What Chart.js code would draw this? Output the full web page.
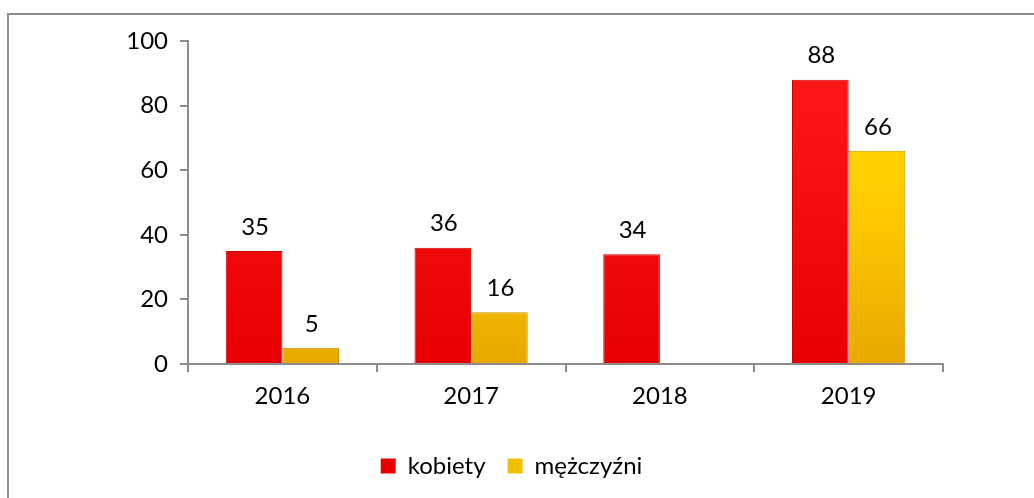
<!DOCTYPE html>
<html>
<head>
<meta charset="utf-8">
<script src="https://cdn.jsdelivr.net/npm/chart.js@4"></script>
<style>
  html, body { margin: 0; padding: 0; background: #fff; }
  #wrap { position: relative; width: 1034px; height: 498px; overflow: hidden; }
  #frame { position: absolute; left: 7px; top: 13px; width: 1040px; height: 500px;
           border-top: 2px solid #8c8c8c; border-left: 2px solid #8c8c8c; }
  canvas { position: absolute; left: 0; top: 0; }
</style>
</head>
<body>
<div id="wrap">
  <div id="frame"></div>
  <canvas id="chart" width="1034" height="498"></canvas>
</div>
<script>
// data
const years = ['2016', '2017', '2018', '2019'];
const kobiety = [35, 36, 34, 88];
const mezczyzni = [5, 16, null, 66];
const yTicks = [0, 20, 40, 60, 80, 100];

const FONT = 'Lato, "Open Sans", sans-serif';
const AXIS = '#8c8c8c';

function redFill(ctx) {
  const area = ctx.chart.chartArea;
  if (!area) return '#f00000';
  const g = ctx.chart.ctx.createLinearGradient(0, area.top, 0, area.bottom);
  g.addColorStop(0, '#ff1a1a');
  g.addColorStop(1, '#e80000');
  return g;
}

function yellowFill(ctx) {
  const area = ctx.chart.chartArea;
  if (!area) return '#ffd000';
  const g = ctx.chart.ctx.createLinearGradient(0, area.top, 0, area.bottom);
  g.addColorStop(0, '#ffe000');
  g.addColorStop(0.5, '#ffcc00');
  g.addColorStop(1, '#e8a800');
  return g;
}

// writes the value above every bar
const valueLabels = {
  id: 'valueLabels',
  afterDatasetsDraw(chart) {
    const ctx = chart.ctx;
    ctx.save();
    ctx.font = '24px ' + FONT;
    ctx.fillStyle = '#000';
    ctx.textAlign = 'center';
    ctx.textBaseline = 'bottom';
    chart.data.datasets.forEach((ds, i) => {
      chart.getDatasetMeta(i).data.forEach((bar, j) => {
        if (ds.data[j] == null) return;
        ctx.fillText(String(ds.data[j]), bar.x + 1, bar.y - 12);
      });
    });
    ctx.restore();
  }
};

const solidColours = ['#e80000', '#f0c000'];

new Chart(document.getElementById('chart'), {
  type: 'bar',
  data: {
    labels: years,
    datasets: [
      {
        label: 'kobiety',
        data: kobiety,
        backgroundColor: redFill,
        borderColor: '#c80000',
        borderWidth: 1
      },
      {
        label: 'mężczyźni',
        data: mezczyzni,
        backgroundColor: yellowFill,
        borderColor: '#c89400',
        borderWidth: 1
      }
    ]
  },
  options: {
    responsive: false,
    animation: false,
    devicePixelRatio: 1,
    datasets: {
      bar: { categoryPercentage: 0.6, barPercentage: 1 }
    },
    layout: {
      // left padding + narrow y scale keeps the legend centred like the original
      padding: { left: 80, right: 91, top: 41, bottom: 10 }
    },
    plugins: {
      tooltip: { enabled: false },
      legend: {
        position: 'bottom',
        labels: {
          font: { family: FONT, size: 24 },
          color: '#000',
          boxWidth: 15,
          boxHeight: 15,
          padding: 22,
          generateLabels(chart) {
            return chart.data.datasets.map((ds, i) => ({
              text: ds.label,
              fillStyle: solidColours[i],
              strokeStyle: solidColours[i],
              lineWidth: 0,
              datasetIndex: i,
              hidden: false
            }));
          }
        }
      }
    },
    scales: {
      x: {
        grid: {
          display: true,
          drawOnChartArea: false,
          drawTicks: true,
          tickLength: 8,
          color: AXIS,
          lineWidth: 2
        },
        border: { display: true, color: AXIS, width: 2 },
        ticks: {
          font: { family: FONT, size: 24 },
          color: '#000',
          padding: 10
        },
        afterFit(scale) { scale.height = 68; }
      },
      y: {
        min: 0,
        max: 100,
        afterBuildTicks(scale) {
          scale.ticks = yTicks.map(v => ({ value: v }));
        },
        grid: {
          display: true,
          drawOnChartArea: false,
          drawTicks: true,
          tickLength: 8,
          color: AXIS,
          lineWidth: 2
        },
        border: { display: true, color: AXIS, width: 2 },
        ticks: {
          font: { family: FONT, size: 24 },
          color: '#000',
          padding: 12
        },
        afterFit(scale) { scale.width = 108; }
      }
    }
  },
  plugins: [valueLabels]
});
</script>
</body>
</html>
